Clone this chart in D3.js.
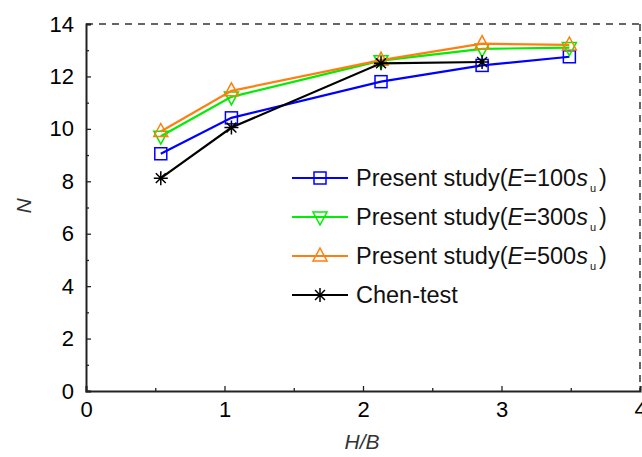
<!DOCTYPE html>
<html><head><meta charset="utf-8">
<script src="https://cdn.jsdelivr.net/npm/d3@7"></script>
<style>body{margin:0;background:#fff}svg{display:block}text{font-family:"Liberation Sans",Arial,sans-serif}</style>
</head><body>
<svg id="c" width="642" height="457"></svg>
<script>
const xValsPresent = [0.54, 1.05, 2.13, 2.86, 3.49];
const xValsChen = [0.54, 1.05, 2.13, 2.86];
const e100 = [9.05, 10.42, 11.8, 12.42, 12.75];
const e300 = [9.72, 11.22, 12.6, 13.05, 13.1];
const e500 = [9.9, 11.45, 12.62, 13.25, 13.2];
const chen = [8.12, 10.05, 12.5, 12.55];
const xTicks = [0,1,2,3,4];
const yTicks = [0,2,4,6,8,10,12,14];
const seriesNames = ["Present study(E=100s", "Present study(E=300s", "Present study(E=500s", "Chen-test"];

const svg = d3.select("#c");
const L=86, R=640, T=24, B=391;
const x = d3.scaleLinear().domain([0,4]).range([L,R]);
const y = d3.scaleLinear().domain([0,14]).range([B,T]);

// frame: top/right dashed
svg.append("line").attr("x1",L).attr("x2",R).attr("y1",T).attr("y2",T).attr("stroke","#333").attr("stroke-width",1.5).attr("stroke-dasharray","7,6");
svg.append("line").attr("x1",R).attr("x2",R).attr("y1",T).attr("y2",B).attr("stroke","#333").attr("stroke-width",1.5).attr("stroke-dasharray","7,6");

// axes
const xAx = svg.append("g").attr("transform",`translate(0,${B})`)
  .call(d3.axisBottom(x).tickValues(xTicks).tickSize(-5).tickPadding(10).tickFormat(d3.format("d")));
const xMinor = svg.append("g").attr("transform",`translate(0,${B})`)
  .call(d3.axisBottom(x).tickValues([0.5,1.5,2.5,3.5]).tickSize(-3).tickFormat(""));
const yAx = svg.append("g").attr("transform",`translate(${L},0)`)
  .call(d3.axisLeft(y).tickValues(yTicks).tickSize(-5).tickPadding(12).tickFormat(d3.format("d")));
const yMinor = svg.append("g").attr("transform",`translate(${L},0)`)
  .call(d3.axisLeft(y).tickValues([1,3,5,7,9,11,13]).tickSize(-3).tickFormat(""));
[xAx,xMinor,yAx,yMinor].forEach(g=>{
  g.selectAll("path").attr("stroke","#222").attr("stroke-width",2);
  g.selectAll("line").attr("stroke","#222").attr("stroke-width",1.3);
  g.selectAll("text").attr("font-size",22).attr("fill","#000").style("font-family","Liberation Sans, Arial");
});
xMinor.select("path").remove(); yMinor.select("path").remove();

svg.append("text").attr("x",362).attr("y",449).attr("text-anchor","middle").attr("font-size",21).attr("font-style","italic").attr("fill","#333").text("H/B");
svg.append("text").attr("transform","translate(31,206) rotate(-90)").attr("text-anchor","middle").attr("font-size",21).attr("font-style","italic").attr("fill","#333").text("N");

const line = d3.line().x(d=>x(d[0])).y(d=>y(d[1]));
const series = [
  {xs:xValsPresent, ys:e100, color:"#0000ff", marker:"square"},
  {xs:xValsPresent, ys:e300, color:"#00ee00", marker:"down"},
  {xs:xValsPresent, ys:e500, color:"#ff7f0e", marker:"up"},
  {xs:xValsChen, ys:chen, color:"#000000", marker:"star"}
];
function drawMarker(g, type, cx, cy, color){
  if(type==="square"){
    g.append("rect").attr("x",cx-6).attr("y",cy-6).attr("width",12).attr("height",12).attr("fill","none").attr("stroke",color).attr("stroke-width",1.5);
  } else if(type==="down"){
    g.append("path").attr("d",`M${cx-7},${cy-5}L${cx+7},${cy-5}L${cx},${cy+8}Z`).attr("fill","none").attr("stroke",color).attr("stroke-width",1.5);
  } else if(type==="up"){
    g.append("path").attr("d",`M${cx-7},${cy+5}L${cx+7},${cy+5}L${cx},${cy-8}Z`).attr("fill","none").attr("stroke",color).attr("stroke-width",1.5);
  } else {
    const r=7;
    let p="";
    for(let i=0;i<4;i++){const a=i*Math.PI/4+Math.PI/2; p+=`M${cx+r*Math.cos(a)},${cy+r*Math.sin(a)}L${cx-r*Math.cos(a)},${cy-r*Math.sin(a)}`;}
    g.append("path").attr("d",p).attr("stroke",color).attr("stroke-width",1.5);
  }
}
series.forEach(s=>{
  const pts = s.xs.map((v,i)=>[v,s.ys[i]]);
  svg.append("path").datum(pts).attr("d",line).attr("fill","none").attr("stroke",s.color).attr("stroke-width",2.2);
  const g = svg.append("g");
  pts.forEach(p=>drawMarker(g,s.marker,x(p[0]),y(p[1]),s.color));
});

// legend
const legY = [178, 217, 256, 295];
series.forEach((s,i)=>{
  const g = svg.append("g");
  g.append("line").attr("x1",292).attr("x2",348).attr("y1",legY[i]).attr("y2",legY[i]).attr("stroke",s.color).attr("stroke-width",2.2);
  drawMarker(g,s.marker,320,legY[i],s.color);
  const t = g.append("text").attr("x",356).attr("y",legY[i]+8).attr("font-size",23.5).attr("fill","#111");
  if(i<3){
    const name = seriesNames[i];
    const eIdx = name.indexOf("E");
    t.append("tspan").text(name.slice(0,eIdx));
    t.append("tspan").attr("font-style","italic").text("E");
    t.append("tspan").text(name.slice(eIdx+1, name.length-1));
    t.append("tspan").attr("font-style","italic").text("s");
    t.append("tspan").attr("font-size",11).attr("dy",6).attr("dx",2).text("u");
    t.append("tspan").attr("dy",-6).attr("dx",3).text(")");
  } else {
    t.text(seriesNames[i]);
  }
});
</script>
</body></html>
